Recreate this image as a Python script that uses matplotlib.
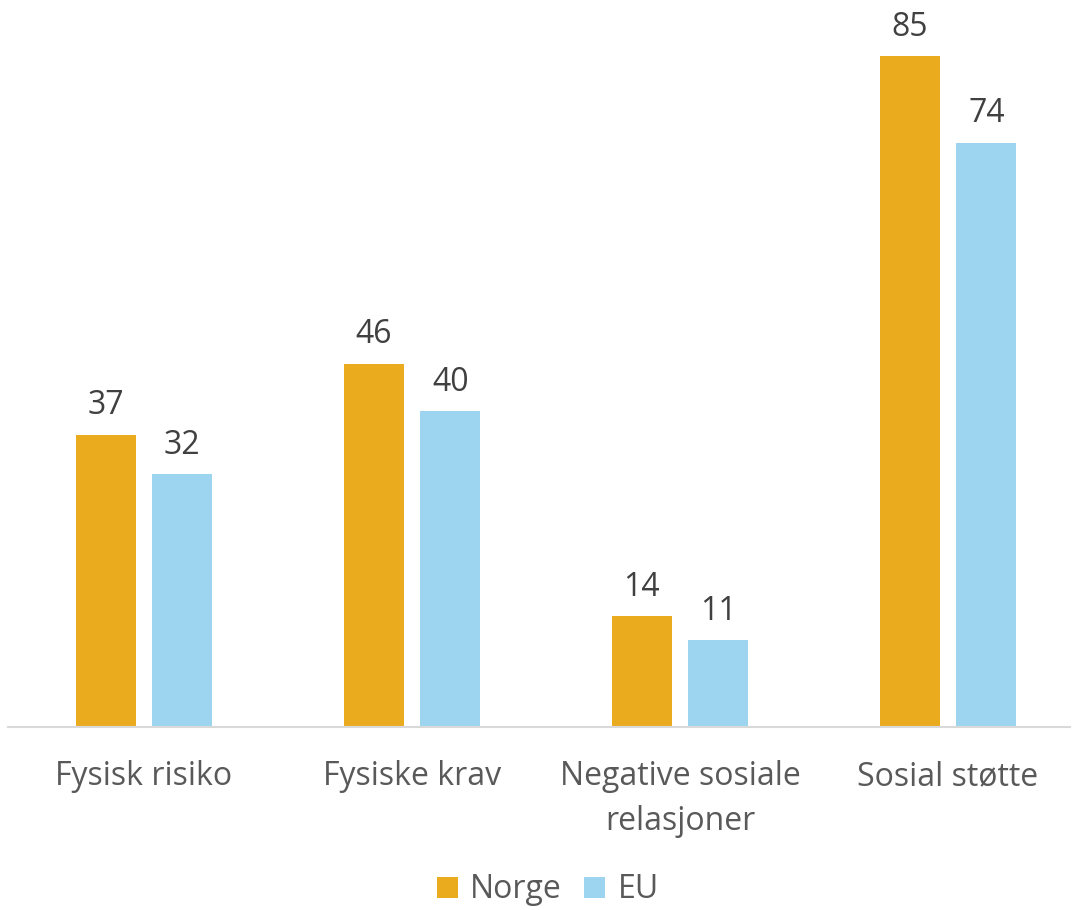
import matplotlib.pyplot as plt
import numpy as np

categories = ["Fysisk risiko", "Fysiske krav", "Negative sosiale\nrelasjoner", "Sosial støtte"]
norge = [37, 46, 14, 85]
eu = [32, 40, 11, 74]

NORGE_COLOR = "#EBAB1E"
EU_COLOR = "#9DD5F0"

plt.rcParams['font.family'] = ['Open Sans', 'DejaVu Sans']

fig = plt.figure(figsize=(10.74, 9.10), dpi=100)
ax = fig.add_axes([8 / 1074, 1 - 727 / 910, 1062 / 1074, 727 / 910])

x = np.arange(len(categories))
width = 0.224
offset = 0.143

b1 = ax.bar(x - offset, norge, width, color=NORGE_COLOR, label="Norge")
b2 = ax.bar(x + offset, eu, width, color=EU_COLOR, label="EU")

for bars in (b1, b2):
    ax.bar_label(bars, padding=9, fontsize=23, color="#404040")

ax.set_xlim(-0.507, 3.455)
ax.set_ylim(0, 92.1)
ax.set_yticks([])
ax.set_xticks(x)
ax.set_xticklabels(categories, fontsize=23, color="#595959", linespacing=1.45)
ax.tick_params(axis="x", length=0, pad=24)

for side in ("top", "right", "left"):
    ax.spines[side].set_visible(False)
ax.spines["bottom"].set_color("#D9D9D9")
ax.spines["bottom"].set_linewidth(1.5)

fig.legend(loc="center", bbox_to_anchor=(548 / 1074, 1 - 890 / 910), ncol=2, frameon=False,
           fontsize=23, handlelength=0.65, handleheight=0.65, columnspacing=0.7,
           handletextpad=0.4, labelcolor="#595959")

fig.savefig("out.png", dpi=100)
